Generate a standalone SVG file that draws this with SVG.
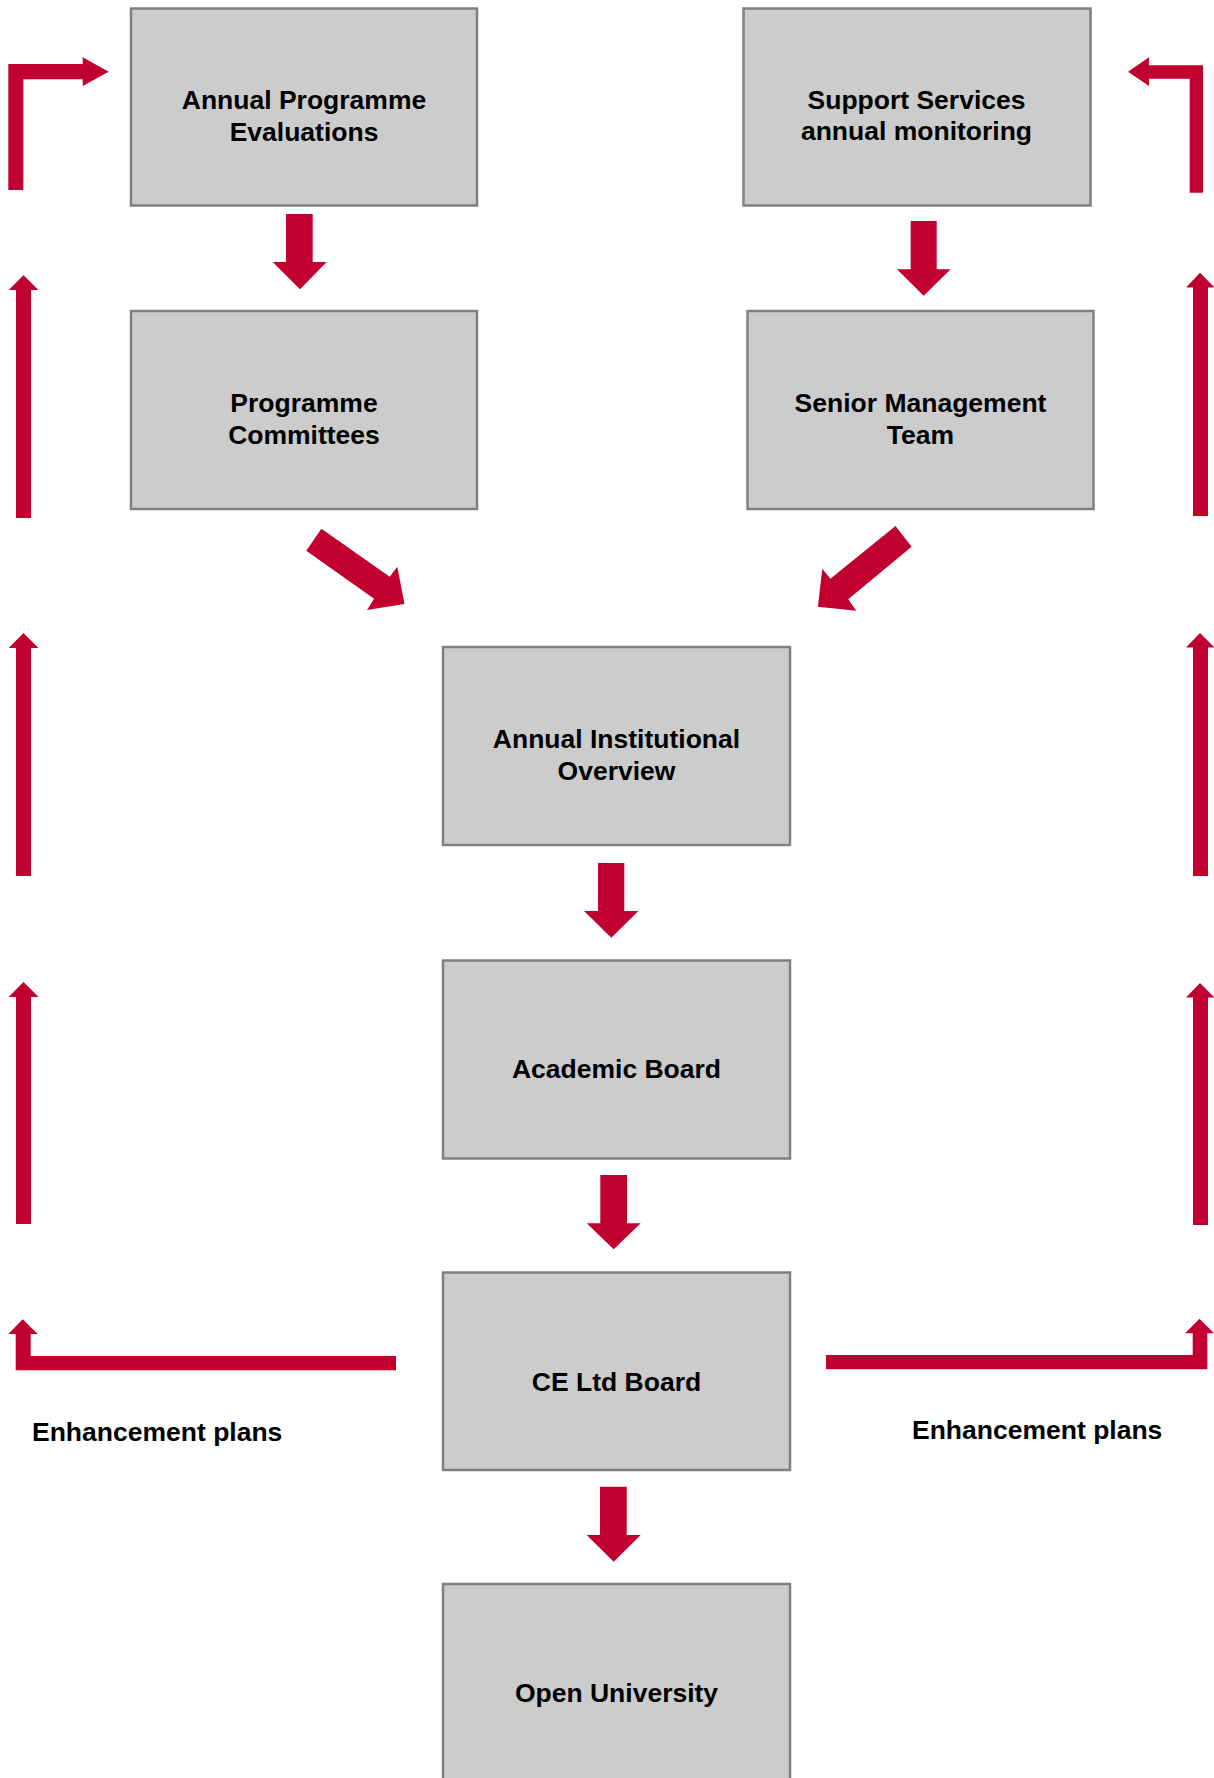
<svg xmlns="http://www.w3.org/2000/svg" width="1214" height="1778" viewBox="0 0 1214 1778">
<style>
.box{fill:#cccccc;stroke:#808080;stroke-width:2.5}
.lbl{font-family:"Liberation Sans",Arial,sans-serif;font-weight:bold;font-size:26.5px;fill:#000;text-anchor:middle}
.side{font-family:"Liberation Sans",Arial,sans-serif;font-weight:bold;font-size:26.5px;fill:#000}
.arr{fill:#c1002f}
</style>
<rect width="1214" height="1778" fill="#ffffff"/>
<g id="connectors">
<polygon class="arr" points="286,214 312.7,214 312.7,262 326.7,262 300,289.3 272.7,262 286,262"/>
<polygon class="arr" points="910.7,221 936.7,221 936.7,269.3 950.7,269.3 923.7,295.7 897,269.3 910.7,269.3"/>
<polygon class="arr" points="321.4,528.7 389.7,576.7 397.3,566.7 404.5,604 367,610 374.1,598.7 306.3,550.7"/>
<polygon class="arr" points="895.5,526 830.4,578.7 822.3,568.7 817.9,606.7 856.3,610.7 848.2,599.3 911.6,546.7"/>
<polygon class="arr" points="598,863 624.3,863 624.3,911 638.3,911 611.3,937.7 584,911 598,911"/>
<polygon class="arr" points="600.3,1175 627,1175 627,1223.3 640.7,1223.3 613.7,1249.3 586.7,1223.3 600.3,1223.3"/>
<polygon class="arr" points="600,1486.7 626.7,1486.7 626.7,1535 640.7,1535 613.7,1561.7 586.7,1535 600,1535"/>
<polygon class="arr" points="8.3,190 8.3,64 82.7,64 82.7,57.3 108.7,71.7 82.7,86 82.7,79.3 23.3,79.3 23.3,190"/>
<polygon class="arr" points="1128,71.7 1149,57.3 1149,65.3 1203,65.3 1203,192.7 1189.7,192.7 1189.7,78.7 1149,78.7 1149,86"/>
<polygon class="arr" points="23.5,275.3 38.5,290 31,290 31,518 16,518 16,290 8.7,290"/>
<polygon class="arr" points="23.5,633 38.5,648 31,648 31,876 16,876 16,648 8.7,648"/>
<polygon class="arr" points="23.5,982 38.5,997 31,997 31,1224 16,1224 16,997 8.7,997"/>
<polygon class="arr" points="1200,272.7 1214.5,287.5 1208,287.5 1208,516 1193,516 1193,287.5 1186,287.5"/>
<polygon class="arr" points="1200,633 1214.5,647.5 1208,647.5 1208,876 1193,876 1193,647.5 1186,647.5"/>
<polygon class="arr" points="1200,983 1214.5,997.5 1208,997.5 1208,1225 1193,1225 1193,997.5 1186,997.5"/>
<polygon class="arr" points="22.7,1319.3 37.7,1334 30.7,1334 30.7,1356 396,1356 396,1370.3 15.7,1370.3 15.7,1334 8.3,1334"/>
<polygon class="arr" points="826,1355 1192.7,1355 1192.7,1333.3 1185,1333.3 1199.5,1318.7 1214,1333.3 1207.3,1333.3 1207.3,1369.3 826,1369.3"/>
</g>
<g id="ape"><rect class="box" x="131" y="8.5" width="346" height="197"/><text class="lbl" x="304" y="109">Annual Programme</text><text class="lbl" x="304" y="141">Evaluations</text></g>
<g id="ssam"><rect class="box" x="743.5" y="8.5" width="347" height="197"/><text class="lbl" x="916.5" y="109">Support Services</text><text class="lbl" x="916.5" y="140">annual monitoring</text></g>
<g id="pc"><rect class="box" x="131" y="311" width="346" height="198"/><text class="lbl" x="304" y="412">Programme</text><text class="lbl" x="304" y="444">Committees</text></g>
<g id="smt"><rect class="box" x="747.5" y="311" width="346" height="198"/><text class="lbl" x="920.5" y="412">Senior Management</text><text class="lbl" x="920.5" y="444">Team</text></g>
<g id="aio"><rect class="box" x="443" y="647" width="347" height="198"/><text class="lbl" x="616.5" y="748">Annual Institutional</text><text class="lbl" x="616.5" y="780">Overview</text></g>
<g id="ab"><rect class="box" x="443" y="960.5" width="347" height="198"/><text class="lbl" x="616.5" y="1077.5">Academic Board</text></g>
<g id="ce"><rect class="box" x="443" y="1272.5" width="347" height="197.5"/><text class="lbl" x="616.5" y="1390.5">CE Ltd Board</text></g>
<g id="ou"><rect class="box" x="443" y="1584" width="347" height="250"/><text class="lbl" x="616.5" y="1702">Open University</text></g>
<g id="labels"><text class="side" x="32" y="1440.5">Enhancement plans</text><text class="side" x="912" y="1438.5">Enhancement plans</text></g>
</svg>
